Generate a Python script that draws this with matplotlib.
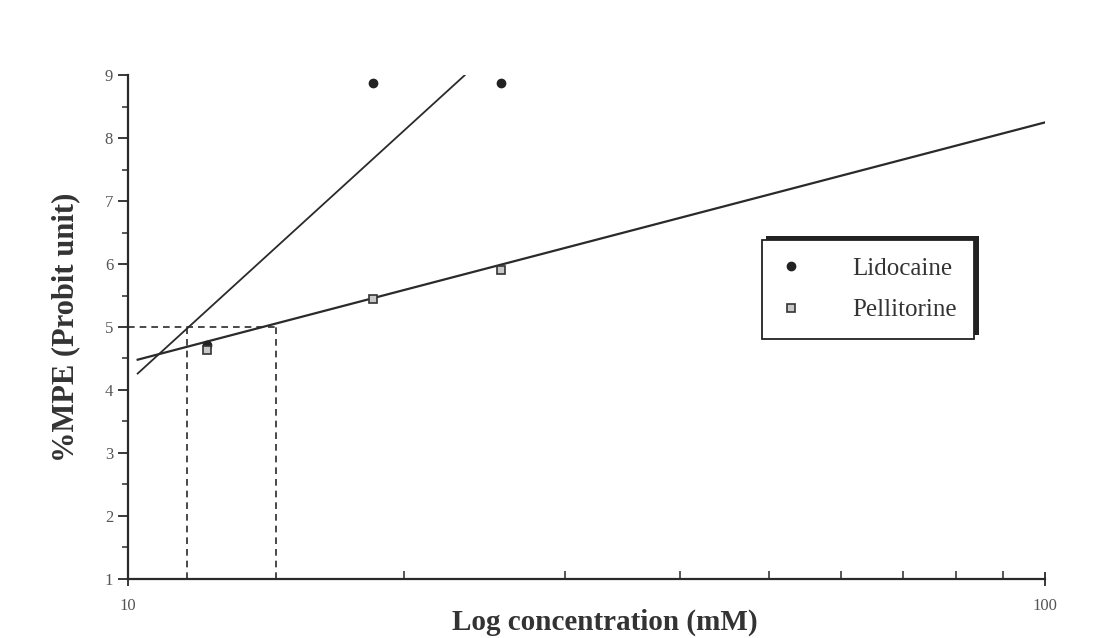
import matplotlib
matplotlib.use("Agg")
import matplotlib.pyplot as plt
from matplotlib.ticker import FixedLocator, NullFormatter
from matplotlib.patches import Rectangle

plt.rcParams['font.family'] = ['Liberation Serif', 'DejaVu Serif']

# measured points
lido_x = [12.2, 18.5, 25.5]
lido_y = [4.72, 8.87, 8.87]
pell_x = [12.2, 18.5, 25.5]
pell_y = [4.64, 5.44, 5.90]

# regression lines (end points)
lido_fit_x = [10.25, 23.3]
lido_fit_y = [4.26, 9.0]
pell_fit_x = [10.25, 100]
pell_fit_y = [4.48, 8.25]

# EC50 read-off (probit 5)
ec50_lido = 11.6
ec50_pell = 14.5
probit50 = 5

fig = plt.figure(figsize=(11.02, 6.38), dpi=100)
ax = fig.add_axes([0.116, 0.093, 0.832, 0.789])

ax.set_xscale('log')
ax.set_xlim(10, 100)
ax.set_ylim(1, 9)

col = '#2a2a2a'
ax.plot(lido_fit_x, lido_fit_y, color=col, lw=1.3)
ax.plot(pell_fit_x, pell_fit_y, color=col, lw=1.6)

# dashed guide lines
ax.plot([10, ec50_pell], [probit50, probit50], color=col, lw=1.2, ls=(0, (4, 3)))
ax.plot([ec50_lido, ec50_lido], [1, probit50], color=col, lw=1.2, ls=(0, (4, 3)))
ax.plot([ec50_pell, ec50_pell], [1, probit50], color=col, lw=1.2, ls=(0, (4, 3)))

ax.plot(lido_x, lido_y, 'o', ms=6, color='#222222', ls='none', label='Lidocaine', zorder=5)
ax.plot(pell_x, pell_y, 's', ms=6, mfc='#c8c8c8', mec='#333333', mew=1.2, ls='none',
        label='Pellitorine', zorder=6)

for s in ['top', 'right']:
    ax.spines[s].set_visible(False)
for s in ['left', 'bottom']:
    ax.spines[s].set_linewidth(1.6)
    ax.spines[s].set_color(col)

ax.set_yticks(range(1, 10))
ax.yaxis.set_minor_locator(FixedLocator([1.5 + i for i in range(8)]))
ax.tick_params(axis='y', which='major', direction='out', length=7, width=1.3,
               labelsize=12, colors=col, labelcolor='#555555')
ax.tick_params(axis='y', which='minor', direction='out', length=4, width=1.1, colors=col)

ax.set_xticks([10, 100])
ax.set_xticklabels(['10', '100'])
ax.xaxis.set_minor_locator(FixedLocator([20, 30, 40, 50, 60, 70, 80, 90]))
ax.xaxis.set_minor_formatter(NullFormatter())
ax.tick_params(axis='x', which='major', direction='inout', length=10, width=1.3,
               labelsize=12, colors=col, labelcolor='#555555', pad=9)
ax.tick_params(axis='x', which='minor', direction='in', length=6, width=1.1, colors=col)

ax.set_xlabel('Log concentration (mM)', fontsize=21, fontweight='bold', color='#333333')
ax.xaxis.set_label_coords(0.52, -0.06)
ax.set_ylabel('%MPE (Probit unit)', fontsize=22, fontweight='bold', color='#333333', labelpad=18)

# legend box with shadow
leg = ax.legend(loc='upper left', bbox_to_anchor=(762 / 1102, 1 - 240 / 638),
                bbox_transform=fig.transFigure, fontsize=18,
                frameon=True, fancybox=False, shadow=False, borderpad=0.7,
                handletextpad=2.0, labelspacing=0.75, handlelength=0.9, borderaxespad=0)
leg.get_frame().set_edgecolor('#222222')
leg.get_frame().set_linewidth(1.3)
leg.get_frame().set_alpha(1)
for t in leg.get_texts():
    t.set_color('#333333')
leg.set_zorder(10)

fig.canvas.draw()
bb = leg.get_window_extent().transformed(fig.transFigure.inverted())
shadow = Rectangle((bb.x0 + 0.004, bb.y0 + 0.006), bb.width, bb.height,
                   transform=fig.transFigure, facecolor='#222222', edgecolor='none',
                   zorder=9, clip_on=False)
ax.add_patch(shadow)

fig.savefig('out.png', dpi=100)
